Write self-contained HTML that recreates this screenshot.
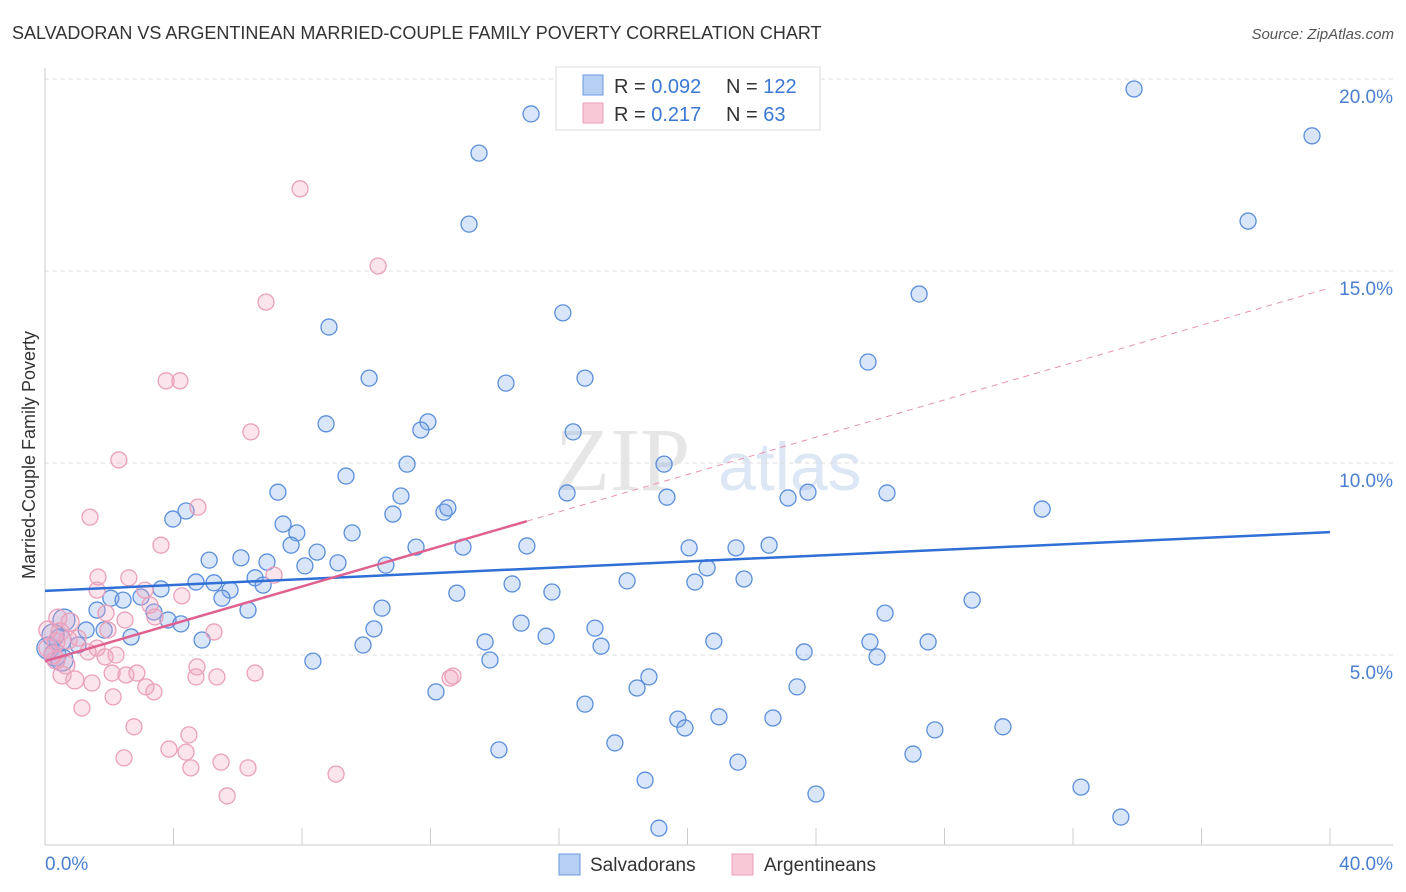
<!DOCTYPE html>
<html><head><meta charset="utf-8">
<style>
body{margin:0;background:#fff;font-family:"Liberation Sans","DejaVu Sans",sans-serif;}
#wrap{position:relative;width:1406px;height:892px;overflow:hidden;}
</style></head>
<body>
<div id="wrap">
<svg id="chart" width="1406" height="892" xmlns="http://www.w3.org/2000/svg">
<text x="12" y="39" font-size="18" fill="#333">SALVADORAN VS ARGENTINEAN MARRIED-COUPLE FAMILY POVERTY CORRELATION CHART</text>
<text x="1394" y="39" font-size="15" fill="#555" text-anchor="end" font-style="italic">Source: ZipAtlas.com</text>
<text x="0" y="0" transform="translate(35,455) rotate(-90)" font-size="18" fill="#333" text-anchor="middle">Married-Couple Family Poverty</text>
<g>
<text x="555" y="490" font-size="90" fill="#e6e6e6" font-family="Liberation Serif,serif">ZIP</text>
<text x="718" y="490" font-size="68" fill="#dce6f4">atlas</text>
</g>
<g id="grid"></g><g id="axes"></g><g id="pts"></g><g id="lines"></g>
<g>
<rect x="556" y="67" width="264" height="63" fill="#fff" stroke="#ddd"/>
<rect x="583" y="75" width="20" height="20" fill="#b7cff2" stroke="#6a9ae0"/>
<rect x="583" y="103" width="20" height="20" fill="#f8c8d7" stroke="#eaa0b8"/>
<text x="614" y="93" font-size="20" fill="#333">R = <tspan fill="#3b78d4">0.092</tspan></text>
<text x="726" y="93" font-size="20" fill="#333">N = <tspan fill="#3b78d4">122</tspan></text>
<text x="614" y="121" font-size="20" fill="#333">R =  <tspan fill="#3b78d4">0.217</tspan></text>
<text x="726" y="121" font-size="20" fill="#333">N =  <tspan fill="#3b78d4">63</tspan></text>
</g>
<g>
<rect x="559" y="854" width="21" height="21" fill="#b7cff2" stroke="#6a9ae0"/>
<text x="590" y="871" font-size="19" fill="#333">Salvadorans</text>
<rect x="732" y="854" width="21" height="21" fill="#f8c8d7" stroke="#eaa0b8"/>
<text x="764" y="871" font-size="19" fill="#333">Argentineans</text>
</g>
</svg>
</div>
<script>
const xTicks=[0,40];
const yTicks=[5,10,15,20];
const blueX=[33.9,15.13,39.44,13.51,37.45,13.2,27.21,8.84,16.12,25.62,10.09,14.35,16.81,11.92,8.75,11.7,16.44,11.27,19.27,9.37,7.25,11.08,16.25,19.36,23.13,23.75,26.21,31.04,10.83,12.42,12.54,3.98,4.39,7.41,7.84,9.56,7.66,11.55,13.01,15.0,20.05,21.51,22.54,5.11,6.1,8.47,6.91,8.09,9.12,10.61,20.61,6.54,3.61,4.7,5.26,5.76,6.79,18.12,20.23,21.76,14.54,15.78,12.82,2.05,2.43,2.99,3.39,3.83,4.23,5.51,6.32,1.62,10.49,26.15,28.86,0.59,1.28,1.84,2.68,4.89,10.24,14.82,15.6,17.12,17.31,13.7,20.82,25.68,27.49,9.9,8.34,13.85,23.63,25.9,0.09,0.31,0.53,18.8,18.43,23.41,12.17,16.81,19.7,20.98,22.66,19.92,27.7,29.82,14.13,17.74,27.02,21.57,18.68,32.25,24.0,33.49,19.11,0.47,1.03,0.25];
const blueY=[19.74,19.09,18.52,18.07,16.3,16.22,14.4,13.54,13.91,12.63,12.21,12.08,12.21,11.07,11.02,10.86,10.81,9.97,9.97,9.66,9.24,9.14,9.22,9.11,9.09,9.24,9.22,8.8,8.67,8.72,8.83,8.54,8.75,8.41,8.18,8.18,7.86,7.81,7.81,7.84,7.79,7.79,7.86,7.47,7.53,7.68,7.42,7.32,7.4,7.34,7.27,7.01,6.72,6.9,6.88,6.69,6.82,6.93,6.9,6.98,6.85,6.64,6.61,6.48,6.43,6.51,6.12,5.91,5.81,6.48,6.17,6.17,6.22,6.09,6.43,5.91,5.65,5.65,5.47,5.39,5.68,5.83,5.49,5.7,5.23,5.34,5.36,5.34,5.34,5.26,4.84,4.87,5.08,4.95,5.18,5.0,4.87,4.43,4.14,4.17,4.04,3.72,3.33,3.39,3.36,3.1,3.05,3.13,2.53,2.71,2.42,2.21,1.74,1.56,1.38,0.78,0.49,5.39,5.26,5.52];
const pinkX=[7.94,10.37,6.88,3.77,4.2,6.41,2.3,1.4,4.76,3.61,1.65,2.61,7.13,3.11,1.62,4.26,3.27,0.4,0.78,1.9,2.49,3.42,1.96,5.26,1.03,1.62,0.34,0.09,0.25,1.34,2.21,0.65,1.87,2.09,2.86,4.73,6.54,4.7,5.35,2.52,0.53,0.93,1.46,3.14,3.39,2.12,1.15,2.77,4.48,2.46,3.86,4.39,5.48,6.32,4.54,9.06,5.67,12.61,12.7,0.34,0.09,0.47,0.72];
const pinkY=[17.14,15.13,14.19,12.14,12.14,10.81,10.08,8.59,8.85,7.86,7.03,7.01,7.08,6.69,6.69,6.54,6.3,5.96,5.86,6.09,5.91,5.99,5.65,5.6,5.44,5.18,5.34,5.65,5.0,5.08,5.0,4.74,4.95,4.53,4.53,4.69,4.53,4.43,4.43,4.48,4.48,4.35,4.27,4.17,4.04,3.91,3.62,3.13,2.92,2.32,2.55,2.47,2.21,2.06,2.06,1.9,1.33,4.4,4.45,4.87,5.18,5.6,5.39];
const blueFit=[6.67,8.2];
const pinkFit=[4.84,0.243,15];
const NS='http://www.w3.org/2000/svg';
const X0=45,X1=1330,Y0=847;
function sx(v){return X0+(X1-X0)*v/40;}
function sy(v){return Y0-v*38.4;}
function mk(tag,attrs,parent){const e=document.createElementNS(NS,tag);for(const k in attrs)e.setAttribute(k,attrs[k]);parent.appendChild(e);return e;}
const grid=document.getElementById('grid'),axes=document.getElementById('axes'),pts=document.getElementById('pts'),lines=document.getElementById('lines');
yTicks.forEach(t=>{
 const l=mk('line',{x1:45,x2:1393,y1:sy(t),y2:sy(t),stroke:'#ddd','stroke-dasharray':'4,4'},grid);
 
 
 const tx=mk('text',{x:1393,y:sy(t)+24,'font-size':19,fill:'#4a7fd0','text-anchor':'end'},grid);
 tx.textContent=t.toFixed(1)+'%';
 
 
});
const ax=mk('line',{x1:45,x2:45,y1:68,y2:845,stroke:'#ccc'},axes);


const bx=mk('line',{x1:45,x2:1393,y1:845,y2:845,stroke:'#ccc'},axes);


for(let k=0;k<=10;k++){
 const v=k*4;
 const t=mk('line',{x1:sx(v),x2:sx(v),y1:828,y2:845,stroke:'#ccc'},axes);
 
 
}
xTicks.forEach((v,i)=>{
 const tx=mk('text',{x:i===0?45:1393,y:870,'font-size':19,fill:'#4a7fd0','text-anchor':i===0?'start':'end'},axes);
 tx.textContent=v.toFixed(1)+'%';
 
 
});
blueX.forEach((x,i)=>{
 const c=mk('circle',{cx:sx(x),cy:sy(blueY[i]),r:x<1?11:8,fill:'rgba(130,170,232,0.3)',stroke:'#5b8fdc','stroke-width':1.3},pts);
 
 
});
pinkX.forEach((x,i)=>{
 const c=mk('circle',{cx:sx(x),cy:sy(pinkY[i]),r:x<1?9:8,fill:'rgba(242,165,192,0.3)',stroke:'#eaa0ba','stroke-width':1.3},pts);
 
 
});
const bl=mk('line',{x1:sx(0),y1:sy(blueFit[0]),x2:sx(40),y2:sy(blueFit[1]),stroke:'#2f6fd6','stroke-width':2.5},lines);


const pl=mk('line',{x1:sx(0),y1:sy(pinkFit[0]),x2:sx(pinkFit[2]),y2:sy(pinkFit[0]+pinkFit[1]*pinkFit[2]),stroke:'#e0608f','stroke-width':2.5},lines);


const pd=mk('line',{x1:sx(pinkFit[2]),y1:sy(pinkFit[0]+pinkFit[1]*pinkFit[2]),x2:sx(40),y2:sy(pinkFit[0]+pinkFit[1]*40),stroke:'#e892b0','stroke-width':1,'stroke-dasharray':'6,5'},lines);


</script>
</body></html>
